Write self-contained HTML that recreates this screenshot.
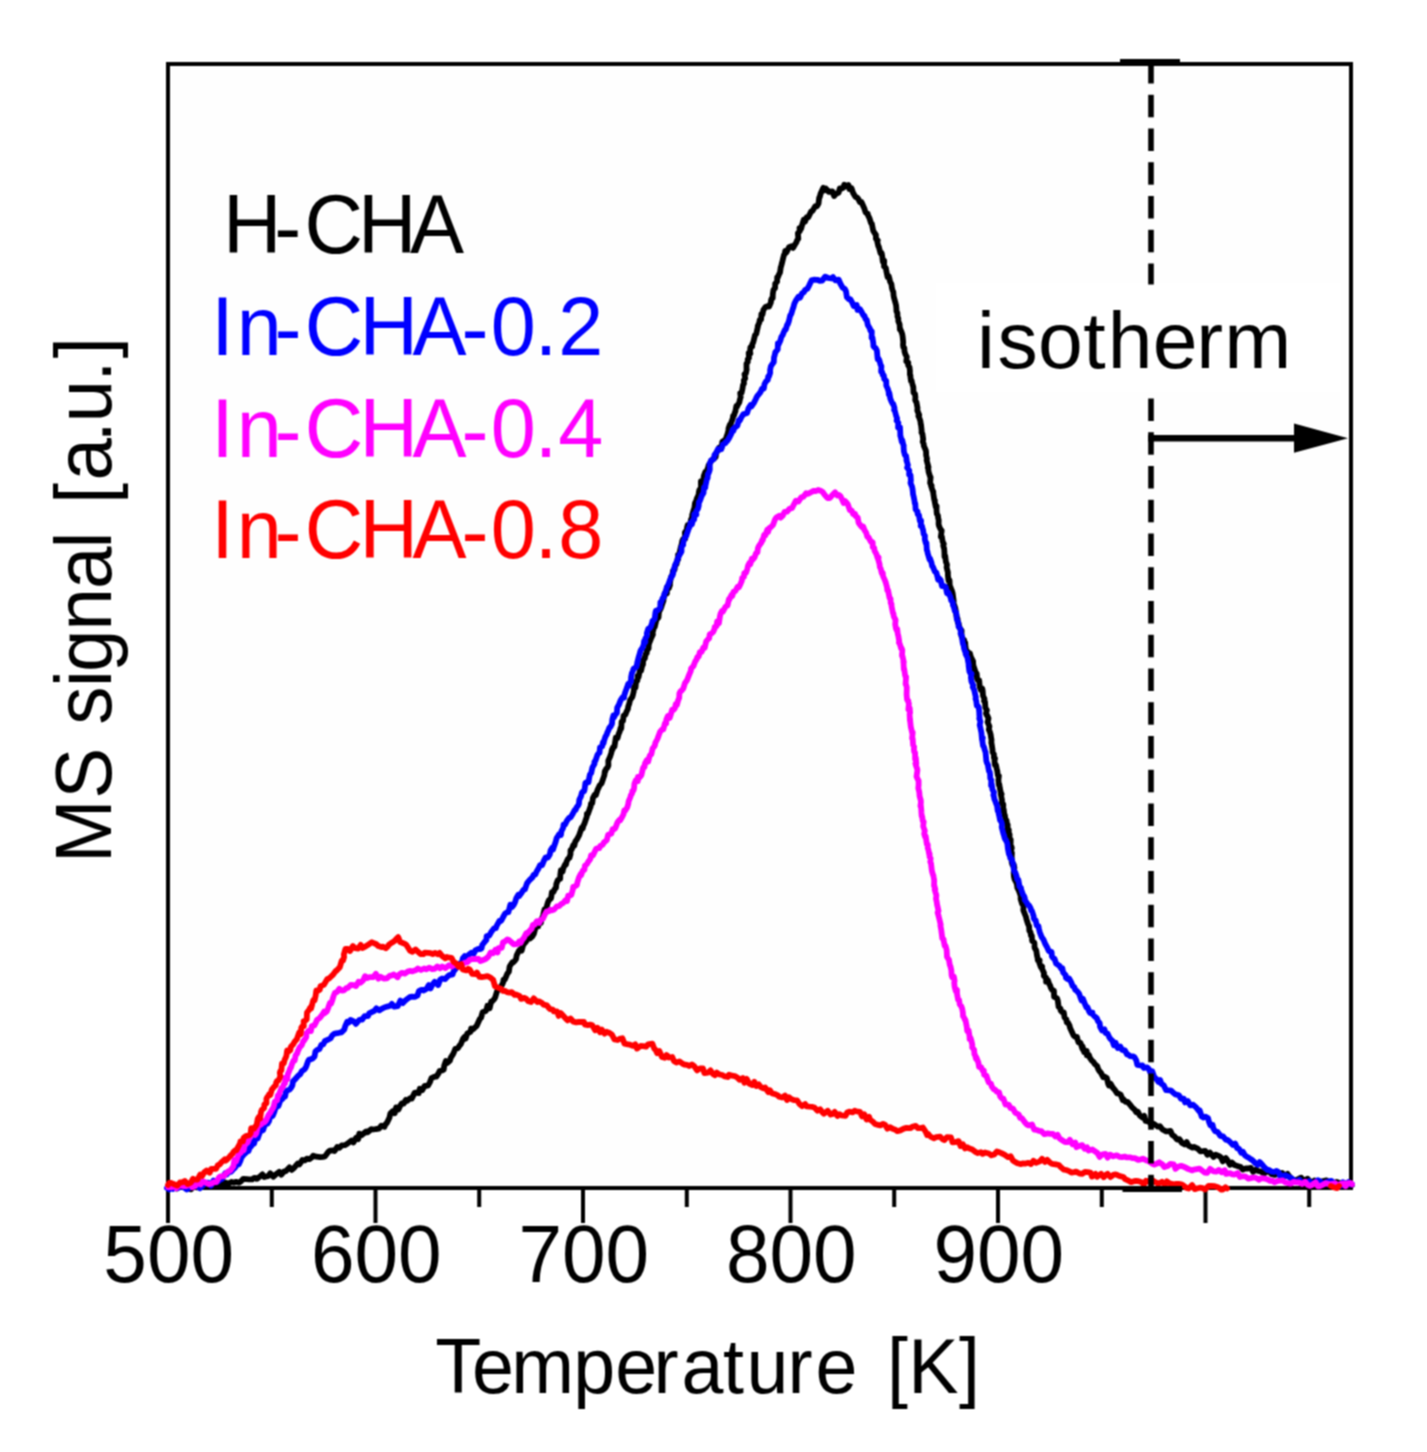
<!DOCTYPE html>
<html><head><meta charset="utf-8"><style>
html,body{margin:0;padding:0;background:#fff;width:1427px;height:1452px;overflow:hidden}
svg{display:block}
text{font-family:"Liberation Sans",sans-serif}
</style></head><body>
<svg width="1427" height="1452" viewBox="0 0 1427 1452">
<defs><filter id="bl" x="0" y="0" width="1" height="1" color-interpolation-filters="sRGB"><feConvolveMatrix order="3" kernelMatrix="1 2 1 2 4 2 1 2 1" divisor="16" edgeMode="duplicate"/></filter></defs>
<g filter="url(#bl)">
<rect x="0" y="0" width="1427" height="1452" fill="#fff"/>
<rect x="168" y="64" width="1183" height="1124" fill="#fefefe"/>
<rect x="936" y="283.5" width="405" height="108" fill="#fff"/>
<g stroke="#000" stroke-width="4" fill="none">
<rect x="168" y="64" width="1183" height="1124"/>
<line x1="168.0" y1="1188" x2="168.0" y2="1223" />
<line x1="375.5" y1="1188" x2="375.5" y2="1223" />
<line x1="583.0" y1="1188" x2="583.0" y2="1223" />
<line x1="790.5" y1="1188" x2="790.5" y2="1223" />
<line x1="998.0" y1="1188" x2="998.0" y2="1223" />
<line x1="1205.5" y1="1188" x2="1205.5" y2="1223" />
<line x1="271.8" y1="1188" x2="271.8" y2="1207" />
<line x1="479.2" y1="1188" x2="479.2" y2="1207" />
<line x1="686.8" y1="1188" x2="686.8" y2="1207" />
<line x1="894.2" y1="1188" x2="894.2" y2="1207" />
<line x1="1101.8" y1="1188" x2="1101.8" y2="1207" />
<line x1="1309.2" y1="1188" x2="1309.2" y2="1207" />
</g>
<g fill="none" stroke-width="5.8" stroke-linejoin="round" stroke-linecap="round">

<path d="M168.0,1187.0 L169.0,1188.7 L171.9,1185.9 L173.8,1186.8 L176.6,1188.5 L178.6,1184.9 L182.6,1186.9 L185.6,1184.8 L188.2,1188.3 L191.0,1189.4 L194.9,1185.0 L196.5,1187.4 L200.4,1186.5 L201.6,1186.6 L204.6,1185.4 L208.1,1186.4 L210.4,1184.7 L212.9,1185.3 L215.4,1182.7 L218.5,1184.8 L220.7,1182.6 L223.7,1185.3 L225.1,1182.4 L228.6,1183.7 L231.5,1181.9 L234.0,1182.7 L235.8,1181.8 L239.3,1182.6 L241.4,1180.9 L243.3,1178.8 L247.1,1179.1 L248.8,1179.3 L252.2,1179.4 L254.3,1177.8 L257.1,1178.9 L259.8,1176.6 L262.4,1174.3 L264.3,1177.0 L268.4,1175.9 L270.3,1173.3 L273.2,1176.7 L276.3,1174.0 L279.2,1171.9 L281.3,1174.7 L283.8,1171.6 L285.7,1171.2 L289.4,1167.4 L291.6,1169.9 L294.0,1168.0 L296.0,1165.4 L297.8,1163.5 L299.4,1164.4 L302.4,1160.0 L304.7,1160.4 L306.8,1158.7 L309.4,1159.2 L311.8,1157.5 L313.3,1155.7 L316.4,1156.7 L320.2,1157.2 L323.0,1156.8 L325.0,1156.4 L328.2,1152.0 L329.8,1150.6 L333.2,1150.5 L334.6,1151.0 L337.3,1146.9 L339.5,1147.7 L341.7,1145.4 L344.8,1145.2 L346.6,1144.2 L348.6,1142.7 L351.5,1140.5 L353.4,1142.5 L356.0,1137.8 L358.2,1139.1 L359.3,1133.6 L361.5,1135.3 L363.5,1133.6 L366.3,1131.4 L367.6,1132.3 L371.2,1129.2 L373.2,1129.5 L376.2,1129.0 L378.9,1128.7 L381.4,1125.6 L384.4,1126.8 L385.2,1124.8 L387.0,1122.8 L389.4,1117.8 L390.4,1113.3 L393.0,1111.0 L394.7,1113.2 L396.1,1107.4 L398.5,1109.4 L400.3,1105.6 L401.8,1103.3 L403.6,1103.6 L405.9,1099.9 L407.4,1100.8 L409.7,1098.5 L411.7,1098.7 L414.6,1092.9 L415.6,1092.7 L418.7,1093.2 L419.8,1088.7 L422.3,1090.0 L424.6,1085.9 L426.6,1085.8 L428.0,1085.5 L429.7,1082.6 L431.5,1078.2 L434.7,1076.6 L436.4,1076.5 L438.5,1073.4 L439.5,1071.1 L441.9,1070.5 L443.7,1069.7 L444.2,1065.8 L445.8,1061.1 L447.4,1062.9 L449.9,1060.6 L450.8,1057.6 L453.2,1053.9 L454.5,1050.9 L455.3,1048.9 L458.0,1048.1 L459.7,1045.3 L460.7,1044.4 L463.1,1038.7 L464.6,1036.9 L465.6,1038.6 L467.3,1033.3 L470.6,1031.9 L471.1,1028.5 L473.0,1029.2 L474.4,1028.0 L476.7,1025.8 L479.2,1020.3 L479.8,1019.0 L481.1,1017.6 L482.6,1012.2 L485.7,1011.0 L486.5,1009.7 L487.4,1005.8 L489.7,1008.1 L491.1,1001.8 L491.5,1002.0 L494.1,999.3 L495.2,997.3 L496.2,994.0 L497.3,990.6 L498.2,988.7 L500.7,987.3 L501.5,985.9 L503.2,982.3 L503.5,979.6 L504.8,979.7 L506.9,974.7 L507.4,973.5 L508.9,971.6 L509.6,966.7 L510.6,964.9 L512.5,962.2 L513.1,962.5 L514.6,961.0 L516.0,959.1 L516.7,955.3 L518.8,951.0 L520.4,949.2 L521.7,950.6 L523.0,945.6 L523.4,944.6 L526.0,941.6 L527.5,939.0 L529.1,936.5 L529.9,938.6 L532.2,936.6 L533.9,933.7 L535.2,928.7 L536.4,926.3 L538.2,926.4 L538.7,921.4 L540.9,922.7 L541.5,919.1 L543.1,916.2 L543.6,913.2 L544.6,909.2 L546.3,908.6 L547.3,904.3 L548.0,902.2 L548.8,900.3 L550.8,898.6 L551.2,897.3 L551.9,892.2 L553.5,891.9 L554.8,888.9 L556.0,887.8 L556.3,884.1 L557.7,880.4 L558.5,879.6 L560.2,878.9 L560.3,875.2 L560.9,870.1 L562.6,871.6 L563.1,868.7 L565.2,864.2 L566.0,864.5 L566.6,861.5 L568.1,858.7 L569.4,857.9 L570.5,854.1 L570.5,850.3 L571.6,849.6 L573.4,844.9 L574.4,845.5 L575.1,842.1 L576.0,840.6 L576.9,839.4 L579.2,835.2 L579.5,834.1 L581.7,827.8 L582.6,828.6 L583.5,825.4 L584.3,824.0 L586.0,819.0 L586.8,816.8 L586.9,813.8 L587.9,814.1 L590.1,807.8 L590.6,806.7 L591.0,803.6 L592.2,803.3 L592.9,798.1 L594.6,794.8 L595.9,795.1 L597.3,790.6 L597.6,789.7 L598.7,787.4 L599.7,785.3 L601.5,783.5 L602.8,779.7 L603.1,778.8 L604.4,775.1 L604.8,771.1 L605.3,771.4 L606.0,769.0 L607.3,767.9 L608.4,765.6 L608.3,760.7 L610.1,756.6 L611.3,752.9 L612.0,749.4 L612.5,749.6 L613.0,747.4 L614.5,746.6 L614.8,744.2 L615.5,739.7 L615.8,737.7 L617.5,738.1 L618.7,733.8 L619.9,731.0 L620.5,728.2 L621.3,728.3 L621.6,721.8 L623.0,720.9 L623.6,715.7 L624.5,715.1 L625.4,714.6 L626.6,711.5 L627.9,709.0 L628.2,706.6 L629.2,703.7 L630.1,700.1 L631.0,698.7 L632.3,697.0 L633.0,694.4 L633.8,691.1 L634.1,687.0 L635.5,687.4 L636.1,681.5 L637.4,680.6 L637.7,676.0 L638.6,677.0 L639.4,672.7 L640.5,668.6 L641.1,670.7 L642.2,665.7 L643.0,664.4 L643.1,660.2 L644.8,658.3 L644.4,658.8 L645.9,653.9 L646.7,653.1 L647.0,650.2 L648.6,648.5 L648.7,645.1 L649.4,642.5 L650.0,641.2 L651.7,636.7 L651.5,637.4 L652.9,634.5 L652.6,632.5 L654.2,627.4 L654.7,627.2 L655.9,622.1 L656.5,619.6 L657.8,618.4 L658.5,617.4 L658.9,612.8 L659.6,609.8 L659.9,610.1 L661.1,607.7 L661.9,605.1 L663.5,600.6 L663.5,598.5 L664.9,594.6 L665.4,591.9 L666.9,593.4 L667.2,586.9 L668.8,588.2 L670.0,584.9 L669.9,583.7 L670.3,580.8 L671.0,577.2 L672.5,574.4 L672.9,571.0 L674.6,569.5 L675.0,565.8 L676.0,563.9 L676.5,564.3 L677.8,557.8 L678.2,559.4 L678.1,554.8 L679.2,555.1 L679.6,552.7 L680.8,547.0 L681.8,544.1 L681.6,544.6 L682.3,540.8 L683.3,538.8 L685.2,538.7 L684.9,532.3 L686.9,530.0 L687.0,528.0 L687.6,525.3 L689.2,526.3 L690.2,524.2 L691.0,519.4 L691.7,519.9 L692.4,514.1 L692.2,515.0 L693.7,509.7 L694.4,508.2 L695.0,503.2 L695.4,502.3 L695.9,501.9 L696.9,498.3 L698.0,496.2 L698.8,493.9 L698.8,492.6 L699.3,490.2 L701.0,487.8 L700.9,481.2 L703.0,480.4 L703.3,480.5 L703.8,476.1 L705.3,471.9 L706.3,472.6 L708.1,467.1 L708.7,465.1 L710.4,462.5 L710.5,461.8 L712.8,459.2 L713.2,459.2 L715.6,457.1 L716.3,452.7 L717.7,451.0 L719.3,447.5 L721.4,448.0 L722.4,441.5 L723.8,440.8 L725.5,439.7 L726.4,437.2 L727.0,435.7 L728.5,430.4 L728.5,428.4 L729.9,424.6 L730.6,424.5 L731.0,423.2 L732.8,418.3 L733.1,416.0 L734.0,415.4 L735.1,411.8 L735.4,411.4 L736.3,406.3 L736.7,407.1 L738.0,404.5 L739.3,402.5 L739.8,399.9 L740.7,397.0 L740.2,393.2 L741.5,393.0 L742.4,389.1 L743.1,384.8 L744.0,383.5 L743.8,380.4 L745.2,378.4 L744.5,374.1 L745.8,373.6 L746.7,369.3 L746.5,369.3 L746.5,363.7 L747.8,361.9 L747.7,359.3 L749.0,358.0 L748.7,353.2 L750.4,353.5 L750.0,352.1 L750.4,347.3 L752.2,346.6 L752.1,344.8 L753.3,342.1 L754.5,337.3 L755.0,335.2 L756.3,333.8 L756.8,331.3 L758.0,326.1 L757.7,326.1 L759.3,322.6 L759.7,319.9 L761.1,319.7 L761.4,314.2 L762.5,314.4 L763.3,310.2 L765.7,306.7 L766.5,306.5 L769.1,306.6 L770.9,302.4 L771.0,300.6 L771.6,298.5 L772.7,298.2 L772.8,294.2 L773.4,290.1 L774.4,288.8 L775.1,288.0 L775.2,283.7 L777.1,281.6 L777.2,277.3 L777.7,277.6 L779.1,274.1 L780.0,272.5 L780.8,267.0 L781.2,266.1 L782.0,263.1 L783.1,258.4 L784.0,254.9 L784.8,254.0 L785.2,250.8 L786.5,252.3 L789.0,247.3 L791.6,246.3 L793.0,247.9 L795.3,244.1 L796.3,242.5 L797.1,240.3 L798.3,238.8 L797.9,233.2 L800.0,230.8 L799.5,228.1 L801.1,228.7 L802.1,225.0 L803.8,219.7 L805.1,221.6 L806.7,217.2 L808.3,217.3 L811.1,211.4 L812.4,211.0 L814.4,207.6 L815.4,206.1 L816.9,206.3 L818.5,203.6 L819.2,197.5 L819.7,197.4 L820.5,194.0 L822.3,189.8 L823.3,187.9 L823.8,190.5 L825.9,188.6 L828.7,191.9 L832.3,191.3 L834.1,196.1 L836.5,193.4 L838.6,192.7 L839.8,188.4 L841.9,188.5 L843.4,187.6 L844.3,184.7 L846.1,186.3 L848.4,185.0 L849.4,189.0 L851.5,188.3 L853.0,192.7 L855.4,196.9 L857.0,197.4 L858.1,198.6 L859.9,202.1 L861.4,202.0 L863.0,205.5 L864.4,208.6 L865.6,212.5 L867.7,213.6 L867.8,214.8 L869.6,218.6 L870.7,222.2 L870.9,222.8 L871.8,223.6 L872.4,226.8 L873.2,230.8 L875.0,233.7 L875.9,234.8 L875.9,238.7 L877.7,240.4 L877.1,240.8 L878.3,246.1 L878.8,246.7 L880.4,252.9 L880.7,253.5 L881.7,253.3 L882.2,256.3 L882.8,261.8 L884.2,260.8 L884.0,266.5 L884.9,267.0 L885.9,268.1 L886.3,270.9 L887.6,277.1 L888.7,276.2 L889.5,278.8 L890.0,281.5 L891.4,284.1 L891.9,288.0 L892.6,290.3 L893.3,291.9 L893.6,295.7 L894.1,298.2 L894.7,300.2 L895.8,304.1 L895.9,304.1 L896.3,307.5 L896.5,311.4 L897.4,313.0 L897.5,316.7 L898.3,318.3 L898.3,321.2 L899.6,324.4 L899.8,327.9 L900.4,329.2 L899.9,329.5 L901.3,331.3 L902.3,334.4 L902.7,336.9 L903.2,342.2 L903.0,344.8 L903.3,347.1 L904.3,347.8 L904.5,351.3 L905.4,354.3 L906.8,356.8 L906.3,361.3 L908.3,362.7 L908.1,365.1 L909.5,367.3 L909.9,370.5 L909.9,374.6 L910.4,375.5 L910.5,377.4 L911.0,381.1 L911.5,380.4 L912.2,383.5 L913.3,387.1 L913.5,392.7 L915.0,393.8 L915.4,397.3 L915.2,399.9 L915.7,401.5 L916.4,402.0 L917.5,408.1 L917.3,410.4 L917.8,411.8 L919.2,414.9 L918.4,415.9 L919.3,417.8 L920.4,421.1 L920.8,424.6 L921.0,424.5 L921.7,431.1 L921.5,432.5 L922.4,433.7 L923.2,439.4 L922.7,441.7 L923.7,443.9 L923.8,445.9 L924.2,446.6 L925.9,450.7 L926.1,452.4 L926.1,455.1 L927.0,458.9 L926.6,460.1 L927.5,463.4 L928.5,467.2 L927.8,467.6 L928.2,468.5 L928.6,471.8 L930.1,476.6 L930.6,477.3 L930.1,483.0 L931.6,485.6 L931.0,485.7 L932.4,490.1 L933.3,491.9 L933.1,492.1 L934.2,499.5 L934.9,500.6 L934.6,501.2 L935.8,507.1 L936.6,506.0 L936.5,510.1 L936.8,513.8 L938.0,515.8 L938.1,517.8 L938.7,520.2 L938.6,524.0 L939.0,525.8 L939.8,527.7 L940.7,529.5 L941.7,530.7 L940.8,536.8 L941.8,536.5 L942.6,541.5 L943.8,544.0 L943.2,545.4 L943.7,547.5 L944.1,548.3 L944.4,551.9 L944.5,556.5 L945.2,555.9 L945.9,561.9 L946.6,563.5 L947.0,564.9 L946.6,567.2 L947.3,570.1 L947.9,572.2 L947.9,575.4 L948.5,580.6 L949.5,580.3 L949.8,586.1 L950.6,587.2 L950.8,588.2 L951.8,590.4 L952.6,593.0 L953.2,597.3 L953.7,601.1 L953.5,603.6 L954.1,604.8 L955.2,607.7 L956.2,613.7 L956.4,615.5 L956.8,617.4 L957.6,618.9 L957.8,622.6 L958.5,623.1 L959.2,626.8 L960.5,629.2 L961.6,630.6 L961.4,636.1 L962.6,638.6 L964.2,640.1 L963.8,643.5 L965.2,642.7 L965.4,646.0 L966.0,649.9 L967.8,652.1 L968.2,654.3 L968.7,654.9 L969.9,653.3 L970.8,656.8 L973.1,661.4 L973.2,664.3 L973.6,666.3 L974.8,669.7 L975.3,671.6 L976.7,673.6 L976.7,673.7 L977.1,678.9 L977.9,680.2 L979.2,680.4 L979.7,686.8 L980.9,690.0 L982.3,688.7 L982.7,691.1 L983.0,695.7 L984.5,698.9 L984.0,701.0 L985.0,701.8 L985.4,707.9 L986.9,710.1 L986.0,713.5 L987.1,715.8 L987.1,715.2 L988.5,718.5 L987.6,722.2 L989.4,726.4 L988.8,729.7 L989.8,731.6 L989.9,731.9 L990.7,734.8 L991.1,737.8 L991.5,739.9 L991.3,743.1 L991.6,743.6 L992.5,749.6 L992.6,752.2 L993.9,754.3 L993.9,757.9 L995.0,758.4 L994.5,760.9 L994.9,765.0 L995.9,764.9 L996.7,768.7 L997.2,770.5 L997.8,774.8 L998.0,775.6 L998.9,775.8 L998.4,779.9 L998.9,785.2 L999.2,784.0 L999.9,788.4 L1001.0,793.3 L1001.5,794.0 L1000.7,793.9 L1002.0,800.1 L1001.9,803.4 L1002.7,804.0 L1003.3,804.2 L1003.1,810.8 L1003.7,809.3 L1004.3,814.9 L1004.8,815.0 L1005.3,818.8 L1006.5,820.5 L1007.3,826.3 L1007.7,824.5 L1007.5,831.1 L1008.8,829.8 L1008.7,833.5 L1009.6,834.4 L1009.4,840.4 L1010.7,839.6 L1010.6,845.1 L1011.4,846.6 L1011.8,848.1 L1010.9,850.4 L1011.9,853.0 L1011.7,856.0 L1011.7,862.3 L1012.4,864.8 L1013.3,863.8 L1013.9,865.2 L1014.4,867.7 L1013.7,872.5 L1013.9,876.4 L1014.6,879.3 L1015.1,880.4 L1015.9,881.6 L1016.9,884.3 L1017.4,888.1 L1017.8,888.4 L1019.2,891.6 L1020.4,895.2 L1020.7,896.5 L1020.6,899.0 L1022.1,903.9 L1023.2,905.2 L1023.5,907.2 L1023.3,910.1 L1025.0,914.5 L1026.1,917.3 L1026.3,918.7 L1027.0,921.0 L1028.1,924.2 L1029.1,926.3 L1029.3,930.7 L1030.4,931.9 L1031.0,935.8 L1031.8,935.6 L1032.0,939.6 L1032.3,941.1 L1034.4,942.8 L1034.6,947.7 L1036.1,950.3 L1036.4,951.3 L1036.9,955.0 L1037.6,958.1 L1037.8,960.3 L1039.6,960.4 L1039.3,962.8 L1040.9,967.2 L1042.2,966.6 L1041.8,968.3 L1044.0,973.0 L1043.8,975.7 L1046.1,977.7 L1046.1,981.7 L1047.9,980.2 L1049.2,983.9 L1050.1,985.4 L1050.8,987.8 L1052.3,990.2 L1053.9,990.5 L1054.1,996.9 L1055.9,997.7 L1057.0,998.3 L1057.8,1000.6 L1058.6,1006.8 L1060.6,1008.8 L1060.6,1010.5 L1062.2,1012.1 L1063.8,1012.3 L1064.5,1017.3 L1066.4,1019.5 L1066.7,1022.3 L1068.2,1023.0 L1069.5,1025.5 L1070.1,1028.1 L1071.6,1031.3 L1073.5,1035.4 L1075.2,1037.0 L1076.9,1036.8 L1077.4,1038.8 L1078.5,1042.4 L1080.5,1042.8 L1082.5,1049.0 L1082.6,1046.4 L1084.1,1052.0 L1086.7,1050.9 L1086.9,1055.3 L1088.9,1054.9 L1089.9,1057.9 L1091.6,1060.3 L1093.6,1062.1 L1094.6,1063.9 L1097.2,1066.2 L1098.3,1069.4 L1099.6,1071.3 L1100.7,1072.3 L1103.2,1077.1 L1104.2,1076.4 L1106.8,1078.0 L1108.2,1083.8 L1108.9,1085.5 L1110.7,1083.9 L1112.7,1087.5 L1115.0,1090.2 L1117.1,1093.4 L1117.9,1093.2 L1120.7,1094.8 L1122.8,1100.1 L1123.5,1099.4 L1125.6,1101.9 L1127.6,1101.8 L1129.7,1104.3 L1131.8,1107.1 L1134.6,1109.6 L1136.2,1112.2 L1137.8,1111.6 L1139.8,1115.5 L1142.7,1117.8 L1144.3,1115.9 L1145.6,1121.0 L1149.0,1121.6 L1151.6,1125.3 L1153.5,1123.8 L1155.4,1125.0 L1157.8,1126.7 L1159.8,1126.2 L1162.5,1129.5 L1166.1,1131.3 L1167.5,1131.3 L1170.5,1131.0 L1172.2,1134.9 L1174.8,1136.7 L1177.0,1139.5 L1179.4,1139.2 L1182.0,1143.0 L1184.7,1144.4 L1186.7,1142.0 L1188.6,1145.6 L1192.5,1147.7 L1194.0,1147.0 L1197.8,1148.7 L1200.3,1151.3 L1202.9,1151.2 L1205.4,1150.9 L1207.3,1154.8 L1209.9,1152.6 L1213.5,1157.0 L1215.6,1154.6 L1219.2,1156.2 L1220.9,1157.4 L1222.7,1161.4 L1225.9,1158.1 L1227.3,1160.0 L1230.0,1164.8 L1232.0,1162.7 L1234.5,1165.1 L1238.1,1166.2 L1240.7,1167.1 L1242.8,1169.5 L1245.6,1168.4 L1248.2,1168.5 L1250.8,1167.9 L1253.1,1171.8 L1255.6,1169.7 L1258.2,1171.0 L1260.6,1171.4 L1264.2,1173.5 L1267.5,1171.1 L1269.6,1172.0 L1271.7,1174.2 L1275.1,1174.9 L1278.0,1172.1 L1279.8,1174.7 L1282.1,1173.0 L1285.2,1175.8 L1287.5,1173.9 L1290.5,1177.8 L1293.5,1179.8 L1296.2,1180.1 L1298.7,1178.9 L1301.1,1177.7 L1303.4,1181.2 L1307.5,1178.7 L1309.0,1180.4 L1311.8,1183.1 L1314.4,1180.6 L1317.5,1183.8 L1320.0,1182.3 L1322.4,1181.3 L1326.4,1180.4 L1328.2,1182.6 L1331.1,1182.4 L1334.1,1183.1 L1336.7,1182.0 L1339.9,1183.2 L1343.1,1185.4 L1345.6,1183.8 L1348.8,1186.7 L1350.0,1185.9 L1352.0,1185.0" stroke="#000" />
<path d="M167.0,1188.0 L169.1,1189.5 L169.7,1185.9 L173.0,1188.9 L175.2,1186.8 L177.8,1188.2 L180.6,1186.0 L183.3,1187.0 L186.7,1189.5 L190.0,1187.5 L192.1,1186.0 L194.3,1184.6 L197.5,1185.7 L199.8,1188.2 L202.0,1186.3 L205.1,1182.9 L208.2,1182.6 L211.0,1185.7 L213.5,1180.6 L216.0,1182.3 L218.0,1181.5 L220.4,1179.4 L222.0,1178.9 L225.1,1173.4 L226.9,1174.4 L228.7,1171.8 L230.9,1171.9 L233.0,1169.5 L234.8,1167.8 L237.6,1163.8 L238.8,1164.2 L240.6,1160.2 L241.5,1157.5 L243.7,1154.7 L245.5,1153.1 L247.0,1151.2 L248.6,1151.0 L249.5,1148.0 L251.2,1146.2 L252.3,1142.3 L254.1,1143.6 L255.8,1137.3 L257.7,1138.3 L259.4,1133.5 L260.7,1130.6 L262.1,1129.4 L263.1,1130.1 L264.4,1126.1 L266.9,1122.7 L267.4,1123.7 L269.1,1120.9 L269.9,1117.1 L271.5,1116.5 L272.8,1115.7 L274.1,1112.5 L275.5,1108.1 L278.1,1105.5 L278.5,1105.9 L280.3,1100.6 L282.6,1098.7 L282.8,1097.2 L285.1,1096.6 L285.9,1092.2 L287.2,1090.4 L289.7,1089.5 L291.2,1087.5 L292.4,1085.3 L293.0,1081.4 L295.5,1078.9 L296.4,1077.8 L299.0,1074.9 L300.1,1074.5 L301.8,1071.2 L304.2,1069.6 L305.4,1068.1 L306.3,1066.3 L307.9,1061.6 L309.1,1059.6 L310.6,1059.3 L312.6,1058.5 L314.6,1056.4 L315.4,1051.4 L317.1,1050.0 L319.4,1049.1 L321.3,1044.8 L323.2,1044.5 L325.0,1040.9 L327.9,1039.7 L330.7,1038.2 L332.1,1035.6 L334.6,1033.6 L337.4,1033.2 L339.4,1032.7 L341.6,1032.3 L344.3,1029.5 L345.2,1026.2 L347.2,1021.8 L348.9,1022.5 L350.6,1019.9 L353.7,1021.3 L355.9,1023.9 L359.2,1020.0 L361.6,1019.4 L362.2,1019.5 L364.6,1016.1 L368.0,1016.2 L369.2,1013.4 L372.2,1011.9 L374.3,1010.9 L376.4,1008.3 L379.4,1010.4 L381.6,1008.9 L384.3,1007.5 L387.2,1006.6 L390.3,1005.8 L391.9,1003.9 L394.4,1006.7 L397.7,1006.2 L400.3,1000.6 L402.7,1003.1 L405.3,1000.5 L407.2,999.0 L410.2,996.8 L412.0,996.6 L415.2,996.8 L417.5,995.5 L418.9,991.1 L421.4,989.8 L423.6,990.5 L426.6,988.7 L428.8,985.1 L430.5,988.4 L432.5,984.5 L434.7,981.8 L438.2,985.0 L440.2,979.5 L442.1,978.5 L445.2,979.1 L447.3,976.7 L449.3,975.1 L452.7,974.4 L453.4,971.6 L456.4,967.9 L458.1,966.5 L459.2,963.8 L461.7,963.1 L462.8,958.4 L464.7,956.1 L467.1,958.4 L468.8,954.8 L471.4,952.6 L473.7,953.7 L475.3,950.4 L478.4,948.9 L480.4,949.1 L481.6,948.3 L482.2,945.0 L484.0,942.7 L486.4,939.8 L486.6,936.2 L489.2,935.7 L490.5,933.3 L491.4,931.7 L494.1,928.3 L495.9,928.1 L496.5,926.1 L499.4,921.0 L500.8,921.0 L501.5,920.3 L502.9,917.5 L505.0,913.7 L506.9,912.4 L508.4,912.2 L510.4,904.6 L512.2,906.9 L513.8,904.7 L515.0,902.3 L516.3,898.2 L518.2,894.8 L519.2,896.0 L521.0,893.6 L523.5,889.7 L525.0,889.2 L526.8,883.9 L527.3,882.9 L529.2,880.5 L529.8,879.9 L532.4,877.4 L533.8,874.6 L535.3,874.6 L536.6,871.5 L538.1,869.2 L540.0,865.3 L541.1,864.6 L542.2,865.0 L543.7,861.1 L545.4,857.7 L546.6,857.2 L547.9,857.5 L549.8,854.4 L550.6,850.3 L552.2,847.9 L553.1,849.4 L554.0,846.5 L555.6,842.0 L556.6,838.2 L558.0,836.2 L559.1,834.3 L560.9,835.0 L561.4,831.3 L563.2,827.7 L563.5,824.7 L565.1,824.5 L566.9,820.7 L569.0,817.9 L570.5,817.5 L571.4,816.1 L572.8,813.8 L574.7,810.0 L575.5,810.1 L576.7,807.1 L577.9,805.8 L578.9,803.9 L579.3,799.8 L581.0,796.2 L581.9,792.6 L584.0,790.6 L584.1,791.2 L584.6,789.5 L585.4,782.8 L586.7,782.2 L588.5,782.4 L589.2,777.9 L589.9,774.5 L591.3,772.8 L591.5,771.5 L592.4,767.5 L594.5,763.9 L594.4,762.0 L595.5,760.5 L596.5,757.6 L597.5,754.8 L598.9,753.0 L599.5,752.7 L600.0,747.3 L602.1,746.3 L602.9,742.4 L603.5,743.4 L604.1,740.6 L605.5,736.4 L607.0,733.9 L607.2,732.6 L608.0,731.2 L609.4,727.6 L610.3,727.0 L612.0,723.9 L612.3,719.5 L613.4,715.4 L613.9,717.7 L615.0,715.2 L616.9,712.9 L617.2,707.7 L619.3,704.0 L619.4,703.4 L620.7,700.1 L622.5,697.5 L624.1,697.7 L624.0,696.3 L625.4,691.7 L627.1,687.3 L628.2,684.0 L628.6,686.0 L630.3,682.0 L631.0,681.4 L631.1,677.3 L631.9,673.1 L632.8,671.1 L633.6,668.6 L635.0,668.0 L636.6,666.8 L637.3,662.4 L638.5,658.1 L638.2,658.7 L639.8,653.2 L640.4,651.0 L641.4,649.1 L642.2,648.4 L643.7,644.8 L644.1,641.0 L645.4,642.1 L645.4,638.4 L647.0,636.0 L646.8,633.3 L648.2,628.8 L649.9,628.2 L651.1,626.0 L652.3,622.2 L652.4,621.1 L654.7,618.9 L655.4,612.6 L655.9,610.6 L657.6,610.4 L658.0,610.1 L660.2,607.5 L660.4,602.4 L661.1,602.7 L662.7,597.9 L664.0,597.1 L664.2,594.2 L665.7,591.7 L666.7,587.5 L667.8,585.7 L669.0,582.9 L669.2,582.0 L670.2,579.5 L671.9,575.6 L672.5,575.6 L673.4,572.1 L673.8,569.3 L674.7,566.6 L675.1,565.4 L676.0,563.2 L677.5,559.8 L677.8,558.6 L679.7,554.3 L680.2,553.9 L681.5,551.6 L681.5,546.9 L683.1,545.0 L682.7,545.4 L683.8,540.4 L684.9,537.8 L686.3,535.9 L686.9,533.8 L688.4,529.5 L689.0,527.6 L689.4,527.6 L690.7,522.6 L691.9,524.4 L693.0,520.0 L694.2,519.6 L694.2,514.2 L696.4,514.7 L696.2,511.4 L698.0,508.5 L698.7,505.8 L698.9,501.8 L699.6,501.6 L700.6,498.9 L701.8,495.6 L703.5,492.9 L703.7,490.4 L704.1,487.2 L705.3,487.6 L705.4,485.8 L706.9,479.0 L707.6,478.1 L707.9,474.0 L708.4,473.5 L709.4,471.2 L709.8,469.4 L709.7,463.6 L710.8,461.8 L711.0,460.5 L712.5,459.9 L713.9,458.9 L714.5,454.9 L715.9,453.5 L717.9,449.1 L719.3,449.8 L721.2,449.3 L722.8,444.3 L725.4,443.2 L725.6,442.1 L727.4,440.8 L729.2,437.9 L731.1,434.2 L732.7,429.5 L733.3,431.0 L734.4,427.8 L737.4,425.6 L738.8,420.2 L739.8,420.6 L741.2,417.5 L743.4,414.1 L744.1,414.0 L747.1,413.0 L748.5,408.4 L750.6,405.1 L751.3,406.7 L753.9,402.9 L755.6,399.5 L756.6,397.3 L757.5,395.8 L758.6,394.6 L760.6,391.9 L762.0,388.7 L762.9,388.9 L763.8,388.6 L764.5,384.1 L766.0,381.4 L767.8,379.8 L768.2,376.3 L768.9,376.6 L770.2,372.8 L770.1,370.0 L770.9,366.2 L771.6,365.1 L773.8,362.0 L774.0,357.4 L774.6,355.6 L775.4,352.0 L775.9,351.7 L777.7,349.5 L777.9,343.4 L778.2,345.2 L780.3,340.8 L780.8,338.9 L781.4,336.8 L782.6,335.3 L783.7,332.4 L784.9,329.8 L785.7,329.6 L787.2,324.6 L787.7,324.5 L789.0,320.7 L790.2,315.4 L790.6,315.1 L791.3,313.9 L792.9,308.5 L793.3,307.8 L794.4,303.5 L795.4,301.5 L796.1,300.1 L798.5,296.7 L800.0,297.7 L802.1,293.2 L803.9,292.2 L805.0,290.1 L807.3,288.8 L809.2,285.3 L811.5,280.4 L813.9,279.7 L817.3,279.8 L819.7,280.8 L822.1,280.6 L825.2,276.6 L828.2,278.0 L831.5,278.5 L833.0,277.1 L835.4,280.4 L838.7,279.7 L840.3,283.5 L842.6,287.7 L844.0,288.4 L844.8,288.9 L846.0,291.3 L846.9,297.2 L848.9,299.2 L850.3,299.1 L852.2,302.6 L853.7,306.0 L856.7,304.9 L857.5,310.0 L859.9,309.2 L861.3,311.3 L863.4,315.3 L864.3,315.5 L865.6,319.2 L866.8,320.0 L867.8,325.1 L870.0,328.7 L870.3,330.5 L870.3,330.0 L871.8,331.4 L871.6,337.7 L872.4,337.4 L873.3,343.2 L873.4,346.1 L874.5,347.4 L875.6,348.0 L876.9,350.6 L877.4,356.4 L877.7,359.3 L877.9,357.9 L879.3,360.1 L880.6,364.9 L881.4,366.3 L881.1,371.7 L882.1,371.8 L882.7,374.9 L883.8,375.2 L884.2,378.9 L886.2,380.8 L886.3,385.6 L887.8,388.9 L888.6,391.6 L888.8,394.4 L889.4,393.2 L890.3,398.7 L891.6,401.8 L893.0,404.3 L893.2,403.9 L894.5,408.2 L894.1,409.9 L894.6,409.9 L896.2,416.1 L897.1,418.5 L896.6,420.7 L898.4,422.8 L898.2,423.3 L898.1,427.4 L900.0,427.4 L900.3,433.7 L900.3,436.1 L900.6,436.2 L901.8,441.8 L902.3,440.3 L903.3,444.8 L903.7,445.5 L903.6,447.3 L903.9,451.4 L904.8,454.9 L906.0,455.8 L906.7,459.9 L906.4,460.2 L907.9,465.0 L907.1,467.7 L908.2,469.0 L909.3,470.7 L909.1,474.6 L910.5,475.0 L910.9,480.6 L910.5,482.9 L911.6,485.8 L912.0,486.5 L912.5,488.8 L912.9,492.3 L913.0,494.0 L913.8,497.3 L914.6,501.5 L914.7,503.0 L915.3,503.7 L915.6,509.4 L917.5,511.6 L917.1,511.1 L917.8,514.3 L919.0,515.3 L919.8,520.9 L921.1,520.7 L920.7,525.8 L921.9,525.8 L922.3,527.8 L923.1,530.1 L923.6,534.0 L924.9,535.7 L924.8,539.2 L925.8,543.2 L926.4,543.0 L926.6,546.2 L926.8,550.0 L927.5,551.8 L927.6,553.0 L929.6,559.6 L929.9,558.3 L931.5,562.8 L932.1,566.0 L932.8,566.6 L934.9,571.7 L936.4,572.7 L937.6,577.3 L938.1,579.7 L938.7,577.9 L940.7,580.2 L942.0,586.0 L944.0,585.9 L945.8,587.1 L947.0,593.2 L948.5,592.6 L950.6,597.5 L951.2,600.5 L952.3,601.4 L952.9,603.5 L952.9,605.1 L953.7,606.6 L954.9,611.2 L956.1,612.3 L956.6,615.8 L956.7,619.0 L958.4,623.1 L958.4,623.3 L958.5,626.6 L960.5,629.3 L960.8,633.9 L960.6,633.6 L961.8,635.7 L962.4,640.5 L962.8,643.2 L963.7,645.8 L964.1,648.7 L965.0,651.4 L966.4,652.6 L965.6,654.0 L967.6,658.0 L967.8,659.7 L968.7,664.4 L968.8,665.5 L968.6,665.4 L969.4,671.5 L970.9,674.5 L971.6,673.7 L970.9,677.3 L971.4,681.4 L973.3,685.5 L972.7,687.0 L974.1,689.7 L974.3,690.4 L975.6,696.3 L975.9,697.3 L975.5,698.7 L976.3,701.2 L976.8,705.8 L978.0,706.0 L978.8,707.6 L979.3,712.7 L979.3,714.1 L979.7,719.6 L979.3,718.6 L980.4,721.6 L979.7,725.1 L980.0,726.2 L980.4,727.9 L981.4,732.6 L981.5,733.8 L982.0,739.5 L982.8,737.8 L982.3,740.4 L983.0,745.6 L983.8,746.6 L984.9,750.4 L985.5,752.0 L985.6,753.0 L986.1,758.2 L986.3,760.7 L986.8,762.6 L988.2,765.3 L988.1,766.5 L989.0,771.3 L989.7,771.7 L990.1,774.7 L990.3,778.6 L991.3,779.9 L991.1,785.3 L991.7,784.0 L992.5,789.8 L994.0,792.2 L993.4,795.1 L993.6,794.2 L994.3,798.9 L995.5,801.7 L996.6,804.9 L996.9,804.6 L997.7,810.8 L998.2,809.3 L998.7,813.9 L999.1,815.2 L1000.1,820.4 L1000.7,820.5 L1001.4,822.0 L1002.0,824.3 L1001.7,827.1 L1003.4,833.9 L1003.8,834.8 L1004.7,838.3 L1006.0,840.7 L1005.8,839.7 L1007.3,843.3 L1007.9,848.7 L1007.8,848.1 L1008.9,853.9 L1010.3,857.2 L1010.2,858.0 L1011.9,859.5 L1012.2,861.3 L1013.4,864.8 L1013.6,868.3 L1014.2,871.5 L1015.1,872.0 L1016.4,875.8 L1017.3,879.5 L1018.4,880.0 L1019.2,884.8 L1019.3,886.4 L1020.9,887.7 L1021.2,889.6 L1023.0,894.7 L1024.2,896.2 L1024.9,898.6 L1024.6,899.7 L1027.1,903.1 L1027.6,904.8 L1028.9,905.2 L1030.6,908.1 L1031.1,910.6 L1031.8,910.6 L1033.7,916.3 L1033.7,918.1 L1034.4,919.5 L1035.6,920.2 L1036.7,925.3 L1038.4,926.1 L1038.9,928.6 L1039.7,931.9 L1041.7,937.3 L1041.9,937.4 L1043.5,939.7 L1045.4,944.3 L1045.3,944.0 L1047.3,947.6 L1048.6,950.7 L1049.3,951.3 L1051.6,952.1 L1051.9,956.4 L1053.1,958.1 L1054.5,958.7 L1056.2,963.7 L1058.0,964.9 L1059.5,965.9 L1061.4,968.8 L1062.3,968.2 L1063.2,972.6 L1065.7,975.2 L1065.9,977.8 L1067.7,979.0 L1069.1,978.5 L1071.4,982.7 L1072.7,986.1 L1074.2,987.0 L1075.3,989.9 L1076.8,990.9 L1079.1,993.6 L1080.5,997.6 L1081.6,1000.4 L1082.9,998.8 L1085.1,1004.5 L1086.5,1007.6 L1087.5,1007.3 L1089.2,1011.6 L1090.1,1013.1 L1092.5,1012.7 L1092.6,1014.3 L1094.9,1016.6 L1096.7,1018.0 L1098.1,1021.3 L1099.7,1023.2 L1100.1,1026.9 L1102.0,1030.4 L1104.4,1029.3 L1105.6,1033.0 L1107.7,1033.8 L1109.2,1037.2 L1110.9,1039.4 L1112.3,1040.6 L1113.9,1045.3 L1115.6,1042.7 L1117.7,1048.0 L1120.3,1046.5 L1122.1,1049.9 L1124.9,1050.4 L1127.0,1054.4 L1127.6,1054.2 L1130.0,1056.1 L1132.9,1056.3 L1134.6,1057.3 L1136.3,1060.4 L1137.3,1065.0 L1140.6,1065.5 L1142.4,1065.5 L1143.9,1068.0 L1147.1,1067.4 L1148.7,1068.9 L1150.7,1073.4 L1152.2,1071.2 L1154.2,1077.0 L1156.5,1079.1 L1158.4,1082.0 L1160.2,1080.1 L1161.6,1084.1 L1163.7,1085.3 L1166.1,1090.2 L1169.5,1090.3 L1171.1,1090.6 L1173.0,1092.4 L1175.5,1094.4 L1178.9,1095.3 L1181.0,1098.9 L1183.7,1098.6 L1185.1,1102.4 L1187.8,1101.0 L1190.4,1105.4 L1193.1,1104.7 L1194.2,1105.8 L1196.2,1107.4 L1199.1,1111.2 L1199.7,1110.4 L1201.7,1116.5 L1203.7,1117.6 L1205.3,1116.6 L1208.0,1118.0 L1209.1,1122.2 L1210.4,1125.3 L1212.6,1124.9 L1213.3,1128.3 L1215.1,1131.1 L1217.2,1131.7 L1219.3,1134.2 L1220.1,1135.8 L1223.0,1136.3 L1225.8,1139.8 L1227.7,1139.9 L1229.5,1141.4 L1232.7,1144.9 L1235.1,1143.5 L1237.2,1148.2 L1239.1,1149.0 L1241.3,1152.8 L1243.0,1151.9 L1244.9,1155.4 L1247.1,1156.9 L1248.6,1157.6 L1250.5,1159.0 L1252.5,1160.3 L1255.8,1163.6 L1257.8,1164.9 L1259.7,1162.1 L1262.5,1165.0 L1264.5,1167.5 L1267.4,1170.0 L1269.0,1170.0 L1271.8,1171.7 L1274.0,1171.9 L1276.6,1170.9 L1278.9,1172.8 L1280.3,1176.3 L1283.0,1175.6 L1285.1,1175.3 L1287.8,1176.4 L1290.9,1177.8 L1293.1,1179.6 L1296.3,1182.1 L1299.4,1179.8 L1301.0,1181.8 L1303.8,1182.8 L1306.1,1182.9 L1309.0,1181.1 L1311.4,1183.5 L1314.7,1182.6 L1318.0,1180.2 L1320.5,1181.8 L1323.0,1184.4 L1325.6,1182.5 L1328.6,1181.4 L1331.4,1180.9 L1334.7,1184.1 L1338.4,1185.8 L1340.4,1186.0 L1343.0,1182.2 L1346.2,1185.0 L1348.6,1182.0 L1350.3,1184.3 L1352.0,1184.4" stroke="#0000ff" />
<path d="M168.0,1187.0 L169.2,1187.1 L171.5,1187.3 L174.3,1184.7 L176.1,1188.3 L179.4,1185.2 L183.5,1186.2 L186.5,1186.0 L189.3,1184.2 L192.3,1187.2 L195.0,1186.2 L197.8,1182.4 L200.6,1184.5 L202.7,1181.2 L206.2,1182.8 L208.8,1184.1 L211.5,1183.6 L213.7,1182.2 L216.3,1182.0 L219.3,1177.0 L220.5,1176.4 L223.7,1176.3 L225.4,1174.0 L227.1,1172.5 L228.5,1171.3 L230.3,1170.6 L231.8,1168.4 L233.4,1166.3 L234.4,1160.0 L236.0,1161.5 L237.6,1157.3 L238.9,1153.4 L240.6,1152.9 L241.4,1148.1 L243.7,1150.3 L244.2,1147.1 L246.2,1141.7 L247.6,1142.5 L250.0,1136.9 L251.2,1134.8 L253.1,1134.0 L255.0,1135.1 L256.3,1133.3 L257.7,1127.1 L259.9,1124.9 L261.1,1124.7 L263.4,1121.3 L264.3,1122.3 L266.0,1120.7 L268.1,1115.9 L268.8,1114.5 L270.3,1112.6 L271.4,1110.5 L273.3,1107.6 L273.8,1106.2 L274.8,1101.7 L277.1,1100.3 L277.8,1095.3 L278.9,1095.4 L279.4,1093.3 L281.4,1088.2 L282.6,1087.5 L283.8,1084.4 L285.0,1083.5 L285.2,1077.6 L287.3,1079.2 L287.8,1074.2 L289.3,1070.9 L290.1,1068.5 L291.0,1067.5 L291.9,1064.3 L293.4,1060.7 L294.7,1060.6 L295.6,1055.3 L297.4,1053.1 L297.5,1051.9 L299.2,1048.3 L299.7,1047.2 L301.9,1044.9 L303.3,1040.9 L304.0,1040.6 L306.2,1037.2 L306.6,1033.2 L308.8,1030.7 L310.9,1031.1 L311.8,1026.0 L314.4,1025.4 L316.2,1021.9 L317.0,1019.9 L319.7,1018.0 L320.8,1016.6 L322.2,1014.7 L324.2,1011.6 L324.2,1013.3 L326.9,1011.3 L327.9,1008.7 L329.9,1003.1 L331.0,1003.8 L332.4,999.9 L333.4,996.5 L334.9,992.9 L337.2,991.8 L339.4,988.8 L341.7,990.5 L344.1,990.3 L346.6,987.8 L347.9,987.8 L350.7,984.9 L353.9,985.1 L355.9,986.1 L358.6,981.8 L360.4,982.7 L363.0,980.6 L365.0,976.2 L367.6,978.0 L369.5,977.1 L373.3,977.1 L375.9,973.8 L378.4,978.7 L380.5,976.7 L383.7,978.5 L386.9,978.4 L389.9,975.7 L391.3,975.7 L393.9,974.5 L397.7,977.3 L399.0,974.7 L402.0,972.8 L404.8,973.6 L407.7,971.6 L409.8,970.9 L412.4,971.4 L416.1,970.0 L417.9,968.5 L421.0,970.0 L424.1,968.5 L426.4,969.3 L429.1,967.7 L432.1,969.0 L434.6,968.8 L437.3,966.4 L440.1,968.2 L442.2,966.5 L445.5,968.1 L449.0,965.1 L451.8,966.5 L453.7,964.3 L456.3,965.4 L459.9,965.2 L462.9,963.6 L465.6,962.5 L467.4,962.1 L469.9,959.6 L473.4,959.0 L474.9,959.0 L478.6,958.9 L480.3,961.1 L482.5,960.2 L485.6,959.0 L488.5,956.5 L490.7,952.4 L493.2,953.2 L495.4,949.8 L497.6,952.4 L498.4,948.2 L501.7,947.9 L503.1,942.0 L504.6,941.8 L507.3,939.5 L509.0,940.1 L511.4,942.2 L513.7,944.3 L517.9,943.8 L519.1,941.5 L520.7,942.8 L522.3,939.7 L523.8,938.1 L526.2,933.3 L527.0,933.7 L530.2,930.1 L531.6,928.8 L532.9,924.9 L534.7,924.7 L536.8,921.2 L539.3,922.9 L540.7,919.9 L542.9,918.7 L545.1,914.1 L546.6,911.3 L548.8,911.3 L550.2,909.7 L552.0,910.3 L554.2,909.5 L556.9,906.3 L559.0,906.2 L561.5,903.7 L563.0,903.3 L565.4,900.3 L567.1,901.0 L568.2,895.7 L569.3,896.0 L571.3,895.0 L572.9,889.3 L573.2,886.9 L574.5,886.6 L576.9,885.0 L577.4,882.3 L578.9,877.6 L580.8,873.9 L581.1,875.2 L582.7,870.6 L584.4,869.8 L584.9,865.8 L586.9,864.1 L587.9,862.3 L590.3,859.0 L591.0,855.5 L592.0,856.0 L593.0,855.2 L596.0,849.0 L597.8,848.2 L599.3,848.1 L600.4,845.9 L602.7,844.7 L603.9,842.5 L606.8,840.0 L608.1,834.9 L609.4,834.2 L611.3,833.7 L612.6,829.2 L614.3,829.1 L615.3,828.1 L617.6,822.1 L619.5,819.8 L620.2,820.2 L622.1,817.0 L623.5,814.2 L624.3,810.4 L625.2,810.6 L627.3,807.3 L628.3,803.8 L628.6,801.3 L630.4,797.0 L630.8,795.3 L632.1,793.3 L632.3,791.1 L633.4,790.5 L634.0,788.7 L634.4,783.9 L635.8,780.3 L637.8,781.1 L638.0,776.8 L639.4,777.6 L641.4,775.2 L642.8,768.8 L643.4,767.2 L644.5,767.1 L645.0,763.4 L646.9,760.0 L648.1,761.7 L649.4,756.8 L650.0,755.2 L651.3,754.4 L652.6,748.5 L654.1,746.7 L654.9,745.3 L655.3,742.9 L657.4,739.0 L658.4,736.4 L659.1,734.4 L660.0,731.9 L662.2,729.3 L663.3,729.4 L665.0,723.1 L666.2,723.2 L666.3,719.6 L667.9,716.0 L669.6,717.9 L670.5,715.4 L672.2,709.7 L673.6,709.8 L674.9,708.2 L675.7,704.3 L676.8,705.1 L678.2,700.1 L679.2,697.8 L679.4,693.2 L680.4,691.6 L681.6,690.6 L683.3,688.5 L683.9,686.7 L684.8,683.4 L686.5,680.8 L686.8,680.8 L688.7,675.9 L689.3,674.4 L690.8,670.8 L691.1,668.5 L693.5,666.0 L694.2,664.0 L695.1,661.7 L696.6,659.4 L697.3,657.0 L698.7,656.6 L699.8,652.1 L701.6,651.8 L703.2,647.8 L704.0,647.3 L704.7,647.8 L706.2,641.4 L707.8,639.5 L709.2,638.1 L709.7,634.4 L711.8,633.3 L713.1,632.0 L714.5,629.0 L714.7,626.7 L716.6,626.2 L717.1,621.5 L718.9,623.2 L720.0,616.0 L720.5,613.9 L721.9,611.1 L722.9,611.5 L725.4,606.9 L726.6,605.8 L727.5,605.7 L728.9,599.2 L729.1,599.9 L731.6,594.8 L732.2,596.1 L733.5,591.8 L735.3,591.1 L737.7,586.7 L738.9,587.2 L740.5,583.9 L741.8,580.9 L742.2,578.0 L743.9,576.9 L744.3,573.1 L746.0,572.8 L747.2,569.4 L748.0,565.9 L749.5,562.9 L750.3,564.2 L751.9,558.6 L752.5,559.9 L754.4,557.7 L756.0,553.3 L757.4,552.4 L757.9,548.4 L758.8,546.2 L761.4,542.5 L762.1,540.1 L762.7,540.3 L764.2,534.9 L765.4,535.3 L767.3,529.8 L768.0,532.1 L769.3,528.0 L770.9,527.1 L773.1,524.7 L774.9,519.8 L776.3,517.5 L779.3,515.8 L780.6,517.7 L782.7,515.7 L784.5,511.9 L786.9,511.7 L789.6,508.8 L792.1,508.0 L793.7,504.8 L795.9,500.7 L798.4,501.5 L801.2,497.4 L803.4,496.8 L806.1,493.2 L807.8,493.8 L809.6,493.0 L813.6,490.9 L816.1,491.0 L818.1,490.0 L821.3,491.1 L822.6,491.9 L824.3,494.3 L827.4,498.0 L829.9,498.0 L832.1,495.3 L835.1,492.3 L837.2,495.5 L838.9,494.9 L840.5,496.3 L842.7,500.8 L843.6,503.0 L845.2,501.1 L847.7,504.1 L849.0,507.7 L849.8,510.1 L851.6,510.5 L853.1,514.0 L855.1,513.9 L855.7,516.2 L857.7,517.6 L858.6,522.8 L860.8,525.9 L862.6,527.6 L863.1,526.4 L864.5,530.1 L866.2,532.8 L867.3,536.8 L868.6,537.4 L870.8,541.7 L870.9,541.2 L872.7,542.4 L872.7,547.2 L874.2,547.9 L874.5,550.6 L876.5,554.4 L877.7,558.4 L878.6,557.4 L878.3,559.8 L879.5,563.9 L879.9,567.3 L880.7,568.6 L881.8,573.3 L882.8,573.0 L883.0,576.1 L884.6,579.6 L885.7,582.6 L885.5,581.7 L887.0,587.3 L887.3,590.1 L888.1,590.1 L888.3,591.7 L889.6,598.1 L890.5,598.4 L890.7,603.0 L891.5,603.9 L891.5,606.0 L891.7,607.0 L893.0,613.5 L893.4,613.4 L893.7,616.2 L894.9,618.8 L895.6,620.0 L895.2,624.2 L895.9,628.3 L897.0,631.0 L897.2,628.9 L897.8,634.3 L898.3,635.7 L899.2,641.3 L898.9,642.6 L899.9,644.3 L901.2,648.8 L901.3,647.6 L902.3,650.0 L902.0,655.8 L902.4,655.9 L903.8,662.1 L903.3,661.7 L903.5,662.7 L903.8,669.1 L903.9,667.9 L904.3,669.6 L905.1,675.3 L905.8,677.3 L906.1,676.8 L905.6,684.0 L905.6,683.3 L906.4,685.9 L906.8,687.5 L906.6,694.5 L906.8,696.8 L907.1,699.8 L908.2,700.7 L907.7,700.4 L908.9,703.5 L908.4,709.2 L909.7,708.1 L910.1,713.0 L909.6,713.5 L909.9,720.3 L910.1,718.8 L910.2,721.4 L910.9,727.7 L910.8,726.9 L912.3,733.3 L912.7,732.3 L912.1,738.3 L912.7,739.7 L912.7,739.0 L913.1,745.1 L914.1,746.8 L913.9,749.2 L914.2,751.8 L915.1,752.8 L915.1,758.9 L915.8,757.8 L916.3,763.6 L915.4,763.4 L915.8,765.0 L917.3,769.3 L917.4,770.4 L916.5,776.6 L918.0,779.8 L918.1,780.1 L918.6,780.6 L918.6,784.9 L918.3,788.3 L918.9,790.5 L919.3,792.2 L919.6,796.2 L920.8,800.4 L920.9,802.6 L920.4,805.9 L920.7,804.4 L921.3,810.0 L921.4,812.2 L921.7,816.3 L922.2,816.5 L922.7,820.9 L923.7,821.7 L923.3,824.6 L923.2,826.4 L924.8,830.8 L924.2,833.9 L925.2,837.2 L925.7,836.2 L926.5,842.0 L926.9,844.5 L927.8,844.7 L927.7,847.9 L928.4,849.8 L929.3,854.7 L929.6,853.6 L929.6,857.0 L930.6,858.3 L930.3,862.0 L931.0,863.4 L931.8,870.4 L932.2,872.2 L933.1,875.2 L933.5,875.9 L933.6,876.9 L934.2,880.6 L934.0,885.6 L934.1,884.8 L935.3,889.4 L934.6,889.3 L935.3,891.8 L936.4,895.3 L936.0,898.9 L936.7,901.8 L937.2,905.5 L937.3,905.4 L938.5,910.9 L937.6,912.4 L939.0,917.6 L938.5,915.5 L939.6,920.2 L940.7,924.7 L940.4,925.4 L941.3,930.3 L941.3,930.5 L941.8,934.3 L942.3,938.4 L943.6,939.3 L943.6,940.3 L944.7,945.9 L945.5,945.8 L946.7,950.2 L946.7,950.7 L947.0,956.8 L947.5,957.7 L948.9,959.6 L949.8,964.9 L950.6,966.8 L950.3,966.1 L951.3,969.9 L951.6,975.1 L952.2,977.2 L953.9,976.7 L954.6,980.9 L954.2,982.6 L954.6,986.8 L955.8,991.1 L957.0,989.8 L957.0,993.8 L957.3,995.5 L958.1,999.8 L959.1,1000.1 L959.7,1004.4 L961.1,1006.0 L962.1,1008.3 L962.9,1012.7 L963.0,1016.2 L964.0,1017.4 L965.0,1020.1 L965.4,1019.7 L966.6,1025.9 L966.8,1027.0 L967.2,1031.0 L968.6,1030.4 L969.6,1036.7 L969.6,1039.1 L970.5,1037.7 L971.5,1041.1 L972.3,1044.9 L972.2,1047.4 L974.1,1049.8 L974.4,1054.2 L975.0,1054.9 L976.0,1058.8 L976.2,1057.2 L978.4,1062.7 L979.1,1066.9 L981.2,1067.4 L982.7,1070.9 L983.8,1070.6 L984.1,1074.9 L986.5,1075.8 L987.6,1079.4 L988.8,1082.5 L990.9,1083.5 L991.7,1086.3 L993.7,1089.2 L995.1,1089.7 L996.9,1091.8 L999.1,1092.4 L1000.1,1096.3 L1001.9,1098.5 L1003.4,1098.6 L1005.5,1104.6 L1007.6,1104.7 L1008.7,1104.7 L1010.4,1107.9 L1013.1,1108.7 L1014.9,1112.3 L1016.0,1113.1 L1018.7,1114.5 L1020.1,1117.8 L1021.7,1118.1 L1025.0,1122.5 L1026.9,1124.6 L1028.5,1125.3 L1032.0,1124.5 L1034.2,1129.6 L1036.6,1129.9 L1038.8,1130.8 L1041.3,1131.1 L1044.4,1134.2 L1047.6,1133.4 L1050.2,1133.9 L1053.0,1133.9 L1055.4,1136.4 L1057.5,1134.8 L1059.7,1138.6 L1062.2,1140.2 L1065.1,1142.1 L1068.0,1142.1 L1069.8,1139.8 L1072.5,1144.2 L1075.3,1142.5 L1076.4,1147.2 L1079.6,1145.8 L1082.2,1145.2 L1084.7,1148.8 L1087.0,1147.3 L1088.7,1150.6 L1092.3,1149.5 L1093.6,1150.4 L1097.4,1153.0 L1099.6,1156.9 L1102.6,1154.3 L1105.6,1153.8 L1107.6,1157.6 L1110.1,1154.7 L1113.3,1156.3 L1116.7,1155.3 L1119.3,1156.8 L1122.1,1157.1 L1124.7,1156.6 L1126.9,1157.4 L1130.4,1157.3 L1132.3,1158.1 L1134.8,1158.1 L1138.2,1159.9 L1140.9,1159.3 L1142.8,1158.7 L1145.9,1160.2 L1148.9,1161.2 L1151.9,1163.5 L1154.4,1164.6 L1156.9,1163.6 L1159.3,1162.3 L1162.7,1164.7 L1164.4,1167.1 L1167.8,1166.0 L1170.3,1163.9 L1173.7,1164.4 L1175.5,1168.8 L1177.9,1166.7 L1181.1,1165.8 L1184.4,1167.0 L1185.7,1167.6 L1188.4,1169.1 L1192.3,1170.4 L1193.8,1169.7 L1196.9,1169.1 L1199.5,1168.6 L1202.0,1170.5 L1204.6,1172.5 L1207.2,1172.8 L1210.1,1168.9 L1213.6,1171.4 L1216.3,1171.6 L1218.8,1169.9 L1221.6,1172.3 L1224.7,1170.3 L1226.1,1173.9 L1230.0,1173.2 L1232.4,1174.4 L1234.6,1174.5 L1237.6,1173.0 L1239.9,1177.0 L1242.5,1176.3 L1245.2,1176.3 L1248.4,1178.7 L1251.6,1177.9 L1253.2,1177.7 L1255.6,1177.6 L1259.1,1179.8 L1261.3,1178.1 L1263.8,1178.4 L1267.0,1179.1 L1270.3,1180.9 L1272.2,1180.6 L1274.4,1182.3 L1278.1,1180.8 L1280.8,1180.6 L1282.7,1180.5 L1285.4,1182.5 L1288.7,1183.3 L1290.6,1183.6 L1293.8,1181.9 L1296.5,1182.3 L1298.8,1182.3 L1302.1,1184.0 L1305.1,1181.7 L1307.7,1184.8 L1310.0,1185.9 L1311.8,1185.1 L1315.6,1182.2 L1317.9,1186.3 L1320.2,1186.0 L1324.0,1184.1 L1325.4,1183.1 L1329.2,1184.1 L1331.4,1184.2 L1335.3,1183.3 L1337.0,1186.7 L1340.4,1183.9 L1344.2,1183.4 L1345.5,1186.3 L1348.1,1183.1 L1351.1,1183.1 L1352.0,1184.4" stroke="#ff00ff" />
<path d="M168.0,1185.0 L169.2,1182.9 L171.4,1183.0 L173.4,1184.0 L177.3,1185.6 L179.9,1182.5 L182.5,1182.3 L184.8,1180.9 L187.6,1184.1 L190.8,1182.6 L193.0,1178.7 L194.7,1179.6 L197.6,1179.5 L200.2,1174.5 L202.1,1176.0 L204.3,1172.3 L206.6,1170.4 L209.6,1172.8 L211.2,1168.8 L213.9,1168.8 L216.1,1168.8 L217.7,1165.4 L220.1,1164.1 L221.6,1162.1 L224.7,1159.4 L225.6,1160.7 L227.9,1158.8 L230.0,1156.2 L232.6,1153.7 L233.5,1151.8 L235.4,1150.1 L236.5,1150.3 L237.9,1147.3 L240.2,1143.0 L240.4,1141.5 L242.9,1141.3 L243.6,1137.9 L245.1,1136.5 L246.5,1135.8 L249.3,1135.2 L250.6,1133.3 L251.2,1128.2 L254.1,1128.6 L254.8,1127.3 L256.7,1124.5 L257.7,1119.0 L259.0,1116.7 L260.1,1118.5 L261.1,1111.5 L261.8,1109.8 L264.0,1108.2 L264.4,1104.3 L266.5,1103.3 L266.4,1099.0 L267.2,1097.2 L269.1,1094.8 L269.1,1094.3 L270.3,1094.9 L271.8,1089.6 L274.2,1086.7 L275.9,1085.1 L276.1,1082.9 L277.1,1080.9 L278.6,1080.4 L280.3,1076.3 L279.8,1072.7 L280.8,1069.9 L281.4,1070.3 L282.0,1063.6 L283.8,1063.2 L284.7,1059.6 L285.5,1058.1 L286.4,1055.9 L287.1,1050.5 L287.9,1052.0 L290.3,1050.2 L290.9,1046.8 L293.0,1044.6 L294.5,1041.9 L295.8,1040.4 L296.8,1039.2 L299.2,1032.6 L300.7,1034.2 L301.3,1027.7 L302.6,1025.9 L303.8,1026.0 L303.6,1021.1 L305.5,1020.4 L306.7,1019.5 L307.0,1012.5 L309.1,1009.9 L310.1,1007.8 L311.0,1008.6 L312.0,1005.1 L312.9,1001.3 L313.5,999.9 L314.6,1000.3 L315.7,995.4 L316.3,990.5 L318.2,990.8 L319.8,989.6 L320.5,986.2 L323.1,985.1 L323.9,984.7 L327.3,979.0 L329.1,978.4 L331.6,976.0 L332.8,974.9 L335.7,971.0 L336.2,971.1 L339.0,968.1 L339.8,967.3 L341.6,961.1 L342.9,959.4 L343.1,960.5 L344.1,957.0 L343.8,954.6 L345.5,948.8 L347.7,948.9 L350.0,951.0 L352.9,946.1 L355.1,948.2 L358.1,948.5 L360.7,944.9 L362.6,948.0 L366.0,946.1 L369.7,943.7 L371.9,942.2 L374.0,943.3 L376.5,944.3 L378.4,946.1 L381.3,947.1 L383.1,946.7 L385.9,948.3 L387.8,946.4 L389.0,944.6 L392.2,942.4 L394.5,941.0 L396.1,939.2 L398.2,937.2 L400.2,942.1 L402.1,942.8 L404.6,943.7 L406.4,944.9 L409.9,950.6 L412.5,951.8 L415.5,949.4 L417.7,951.5 L420.6,954.0 L423.3,954.2 L424.8,952.6 L428.1,952.8 L430.6,953.2 L432.7,954.0 L435.1,953.0 L438.1,954.2 L439.6,952.9 L442.0,955.8 L445.4,958.3 L446.9,957.0 L449.8,957.7 L451.5,957.8 L453.5,961.8 L456.6,963.7 L458.5,966.7 L461.2,964.2 L462.7,969.4 L466.4,970.4 L468.1,968.7 L469.7,969.6 L472.3,973.9 L475.6,974.2 L476.9,972.6 L479.5,976.9 L481.7,977.0 L484.8,976.7 L487.5,976.2 L489.0,976.9 L490.8,977.8 L493.2,980.0 L494.9,986.1 L497.5,987.5 L501.0,988.7 L502.8,990.9 L505.2,991.0 L507.0,992.1 L509.6,992.7 L511.7,992.1 L514.6,994.9 L515.9,994.5 L519.5,995.9 L521.1,998.9 L524.4,997.9 L526.3,998.8 L528.4,1001.3 L531.0,1002.0 L533.7,998.4 L537.3,1002.0 L539.0,1001.3 L542.0,1003.0 L543.6,1004.6 L546.8,1005.4 L548.8,1007.9 L550.1,1009.1 L552.8,1009.5 L553.8,1011.4 L557.0,1011.5 L558.7,1015.9 L560.7,1013.1 L562.8,1015.3 L565.7,1018.4 L567.5,1020.4 L570.5,1018.5 L573.4,1021.7 L576.1,1022.3 L578.4,1022.0 L580.9,1021.9 L584.0,1022.0 L585.0,1024.7 L587.9,1025.0 L590.3,1024.7 L592.1,1025.0 L595.2,1030.3 L597.4,1027.7 L600.1,1032.3 L601.7,1029.5 L604.5,1033.6 L606.8,1031.8 L609.6,1033.0 L611.9,1034.7 L614.4,1039.3 L617.6,1040.0 L619.5,1038.9 L622.4,1038.2 L624.5,1043.6 L627.9,1044.3 L630.0,1044.7 L633.3,1045.9 L635.3,1044.4 L637.0,1048.6 L640.6,1046.0 L643.5,1046.1 L646.0,1046.7 L648.2,1044.3 L650.8,1043.8 L652.3,1043.6 L654.2,1048.5 L655.6,1049.8 L657.2,1053.2 L659.4,1051.1 L662.0,1057.0 L664.6,1057.8 L666.6,1055.0 L668.8,1057.5 L672.3,1057.0 L673.9,1061.0 L676.4,1062.5 L679.4,1061.4 L682.6,1063.8 L684.3,1064.5 L686.9,1064.8 L689.2,1066.1 L691.9,1064.5 L694.2,1066.1 L697.1,1070.4 L700.0,1068.4 L703.0,1068.5 L704.4,1073.2 L708.0,1072.7 L710.5,1070.4 L712.9,1074.0 L715.0,1075.2 L716.7,1072.5 L719.2,1074.3 L722.3,1075.0 L724.5,1076.4 L727.7,1077.0 L729.0,1074.6 L731.8,1075.7 L734.8,1076.1 L737.3,1077.5 L739.5,1079.9 L742.8,1078.1 L744.4,1082.7 L746.7,1078.9 L749.2,1083.6 L752.4,1085.1 L754.3,1081.8 L756.3,1086.1 L758.7,1084.4 L760.9,1087.1 L763.1,1088.3 L765.1,1087.5 L768.3,1092.1 L770.0,1090.3 L772.1,1093.5 L775.2,1094.1 L777.8,1095.3 L779.1,1096.7 L782.2,1097.5 L784.9,1095.5 L787.0,1100.1 L789.0,1097.2 L791.6,1099.2 L794.4,1100.2 L797.2,1100.4 L799.3,1103.8 L802.0,1106.2 L805.1,1104.0 L806.7,1106.4 L809.5,1106.7 L812.5,1106.9 L814.4,1107.5 L817.5,1110.7 L820.1,1109.3 L822.2,1112.1 L823.9,1113.8 L827.7,1110.8 L830.5,1114.6 L832.6,1113.9 L834.7,1111.9 L837.4,1116.0 L839.3,1114.2 L841.5,1115.3 L845.6,1115.8 L847.2,1112.4 L849.1,1111.7 L852.8,1112.4 L854.7,1110.7 L856.6,1111.4 L859.9,1111.8 L862.0,1116.4 L864.2,1114.3 L866.6,1119.5 L869.1,1116.8 L870.0,1119.7 L873.1,1121.8 L874.9,1124.0 L878.1,1124.9 L880.3,1125.4 L883.1,1123.9 L885.2,1124.9 L887.3,1128.6 L890.1,1127.1 L892.6,1128.7 L894.8,1129.4 L897.3,1131.2 L900.3,1130.4 L903.8,1128.6 L906.5,1127.9 L910.2,1128.2 L912.8,1126.5 L915.7,1125.9 L918.0,1128.2 L920.4,1128.2 L922.9,1127.5 L925.6,1131.6 L927.1,1135.0 L928.3,1134.1 L929.6,1135.8 L931.2,1137.0 L933.7,1138.3 L936.2,1137.1 L940.2,1136.7 L942.7,1139.4 L944.4,1140.1 L947.0,1137.1 L951.0,1137.5 L952.5,1142.3 L955.3,1142.2 L958.6,1141.1 L960.6,1146.1 L962.9,1144.3 L965.0,1148.5 L966.9,1147.2 L970.2,1148.8 L972.4,1149.6 L975.8,1152.1 L977.8,1153.0 L980.8,1152.2 L982.6,1153.9 L985.0,1152.5 L988.9,1153.5 L991.4,1155.3 L994.2,1154.4 L996.9,1151.5 L999.5,1152.3 L1001.3,1153.1 L1004.4,1154.7 L1008.0,1157.2 L1010.7,1156.3 L1012.8,1160.4 L1014.8,1161.8 L1016.8,1162.9 L1020.4,1164.1 L1023.1,1163.4 L1025.1,1163.6 L1028.5,1162.8 L1031.0,1164.1 L1033.5,1160.8 L1036.0,1162.9 L1039.8,1161.4 L1042.0,1158.8 L1045.0,1161.9 L1047.2,1159.9 L1050.0,1162.6 L1051.8,1163.7 L1053.6,1164.2 L1056.7,1164.5 L1058.8,1165.0 L1060.4,1166.8 L1063.7,1169.6 L1066.2,1170.0 L1069.1,1171.1 L1071.4,1172.6 L1074.2,1172.1 L1076.1,1171.6 L1079.5,1173.5 L1082.5,1173.8 L1085.0,1171.9 L1087.7,1172.1 L1090.4,1172.5 L1092.0,1176.6 L1095.5,1173.9 L1097.2,1176.7 L1101.0,1173.8 L1103.7,1177.3 L1105.9,1174.7 L1107.6,1173.8 L1110.5,1177.1 L1113.2,1174.9 L1115.7,1174.4 L1117.9,1175.3 L1119.7,1176.1 L1123.5,1177.0 L1125.1,1179.2 L1128.2,1180.5 L1131.1,1182.1 L1134.1,1181.2 L1136.2,1180.8 L1137.9,1181.1 L1141.6,1182.3 L1143.9,1184.6 L1145.9,1180.8 L1148.1,1181.6 L1151.0,1179.2 L1154.7,1181.9 L1157.1,1183.0 L1159.4,1183.2 L1162.0,1181.8 L1165.0,1184.6 L1166.8,1181.4 L1169.7,1183.4 L1173.6,1184.3 L1176.3,1184.0 L1178.5,1183.8 L1181.4,1184.3 L1183.1,1185.3 L1186.5,1187.9 L1188.7,1188.5 L1192.1,1185.1 L1194.7,1189.1 L1197.7,1188.2 L1199.8,1187.7 L1202.8,1188.2 L1205.0,1189.5 L1208.6,1185.9 L1211.4,1186.0 L1214.8,1186.2 L1217.9,1187.2 L1221.2,1189.5 L1222.8,1189.5 L1225.5,1187.3 L1227.0,1188.5" stroke="#ff0000" />
<path d="M1331.0,1186.0 L1333.5,1187.2 L1337.1,1188.1 L1339.0,1186.0" stroke="#ff0000" />

</g>
<g fill="#000">
<rect x="1148.2" y="61.0" width="5.6" height="22.5" />
<rect x="1148.2" y="94.8" width="5.6" height="22.5" />
<rect x="1148.2" y="128.5" width="5.6" height="22.5" />
<rect x="1148.2" y="162.2" width="5.6" height="22.5" />
<rect x="1148.2" y="196.0" width="5.6" height="22.5" />
<rect x="1148.2" y="229.8" width="5.6" height="22.5" />
<rect x="1148.2" y="263.5" width="5.6" height="21.0" />
<rect x="1148.2" y="398.5" width="5.6" height="22.5" />
<rect x="1148.2" y="432.2" width="5.6" height="22.5" />
<rect x="1148.2" y="466.0" width="5.6" height="22.5" />
<rect x="1148.2" y="499.8" width="5.6" height="22.5" />
<rect x="1148.2" y="533.5" width="5.6" height="22.5" />
<rect x="1148.2" y="567.2" width="5.6" height="22.5" />
<rect x="1148.2" y="601.0" width="5.6" height="22.5" />
<rect x="1148.2" y="634.8" width="5.6" height="22.5" />
<rect x="1148.2" y="668.5" width="5.6" height="22.5" />
<rect x="1148.2" y="702.2" width="5.6" height="22.5" />
<rect x="1148.2" y="736.0" width="5.6" height="22.5" />
<rect x="1148.2" y="769.8" width="5.6" height="22.5" />
<rect x="1148.2" y="803.5" width="5.6" height="22.5" />
<rect x="1148.2" y="837.2" width="5.6" height="22.5" />
<rect x="1148.2" y="871.0" width="5.6" height="22.5" />
<rect x="1148.2" y="904.8" width="5.6" height="22.5" />
<rect x="1148.2" y="938.5" width="5.6" height="22.5" />
<rect x="1148.2" y="972.2" width="5.6" height="22.5" />
<rect x="1148.2" y="1006.0" width="5.6" height="22.5" />
<rect x="1148.2" y="1039.8" width="5.6" height="22.5" />
<rect x="1148.2" y="1073.5" width="5.6" height="22.5" />
<rect x="1148.2" y="1107.2" width="5.6" height="22.5" />
<rect x="1148.2" y="1141.0" width="5.6" height="22.5" />
<rect x="1148.2" y="1174.8" width="5.6" height="13.2" />
<rect x="1120" y="59" width="60" height="5"/>
<rect x="1122.5" y="1186" width="59.5" height="6"/>
<rect x="1148" y="435" width="148" height="6.5"/>
<path d="M1294,423.5 L1348,438.2 L1294,452.8 Z"/>
</g>
<g transform="translate(0,1281.8) scale(1,1.041)"><text x="103.3 147.0 190.6" y="0" font-size="78.4" fill="#000" >500</text></g>
<g transform="translate(0,1281.8) scale(1,1.041)"><text x="310.9 354.5 398.1" y="0" font-size="78.4" fill="#000" >600</text></g>
<g transform="translate(0,1281.8) scale(1,1.041)"><text x="518.4 562.0 605.6" y="0" font-size="78.4" fill="#000" >700</text></g>
<g transform="translate(0,1281.8) scale(1,1.041)"><text x="725.9 769.5 813.1" y="0" font-size="78.4" fill="#000" >800</text></g>
<g transform="translate(0,1281.8) scale(1,1.041)"><text x="933.4 977.0 1020.6" y="0" font-size="78.4" fill="#000" >900</text></g>
<g transform="translate(0,1392.5) scale(1,1.041)"><text x="435.2 471.9 511.3 573.3 615.2 653.6 681.4 723.0 746.6 787.5 815.5 857.4 886.9 908.2 959.0" y="0" font-size="75.4" fill="#000" >Temperature [K]</text></g>
<g transform="translate(111,860) rotate(-90) scale(1,1.0426)"><text x="-2.9 61.3 112.3 135.2 173.1 188.0 229.6 270.9 311.6 328.5 356.1 379.6 417.4 437.6 478.2 501.7" y="0" font-size="76.4" fill="#000">MS signal [a.u.]</text></g>
<g transform="translate(0,368) scale(1,0.995)"><text x="977.1 997.6 1038.1 1083.2 1107.7 1152.7 1196.3 1224.3" y="0" font-size="80.5" fill="#000" >isotherm</text></g>
<g transform="translate(0,253.4) scale(1,1.036)"><text x="223.0 274.2 304.4 357.9 409.9" y="0" dy="0 2.2 -2.2 0 0" font-size="81" fill="#000" >H-CHA</text></g>
<g transform="translate(0,355.1) scale(1,1.036)"><text x="211.2 236.8 274.4 304.7 359.5 412.4 461.5 490.8 534.8 558.2" y="0" dy="0 0 2.0 -2.0 0 0 2.0 -2.0 0 0" font-size="81" fill="#0000ff" >In-CHA-0.2</text></g>
<g transform="translate(0,456.7) scale(1,1.036)"><text x="211.2 236.8 274.4 304.7 359.5 412.4 461.5 490.8 534.8 558.2" y="0" dy="0 0 2.0 -2.0 0 0 2.0 -2.0 0 0" font-size="81" fill="#ff00ff" >In-CHA-0.4</text></g>
<g transform="translate(0,558.2) scale(1,1.036)"><text x="211.2 236.8 274.4 304.7 359.5 412.4 461.5 490.8 534.8 558.2" y="0" dy="0 0 2.0 -2.0 0 0 2.0 -2.0 0 0" font-size="81" fill="#ff0000" >In-CHA-0.8</text></g>
</g></svg>
</body></html>
